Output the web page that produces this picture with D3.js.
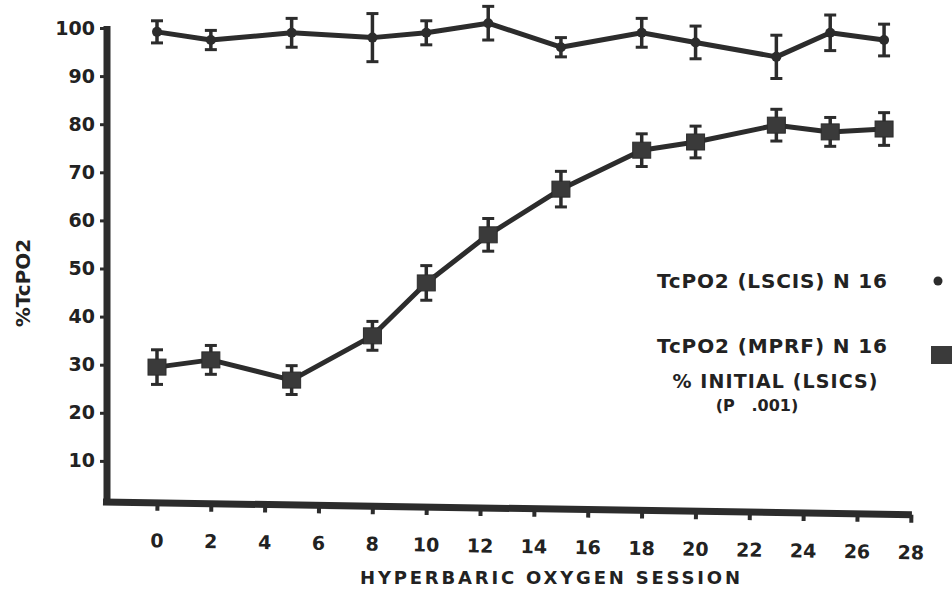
<!DOCTYPE html>
<html>
<head>
    <title>%TcPO2 by hyperbaric oxygen session</title>
    <script src="https://d3js.org/d3.v7.min.js"></script>
</head>
<style>
    body {
        margin: 0;
        background: #fff;
    }

    .chart text {
        font-family: "DejaVu Sans", "Liberation Sans", sans-serif;
        font-weight: bold;
        fill: #222;
    }
</style>
<body>
    <svg class='chart'></svg>
</body>
<script>
    // session numbers along the x axis
    const sessions = [0, 2, 5, 8, 10, 12.3, 15, 18, 20, 23, 25, 27]
    // TcPO2 (LSCIS) - mean and error
    const lscisMean = [99.2, 97.5, 99, 98, 99, 101, 96, 99, 97, 94, 99, 97.5]
    const lscisErr = [2.3, 2, 3, 5, 2.5, 3.5, 2, 3, 3.4, 4.5, 3.7, 3.3]
    // TcPO2 (MPRF) % initial - mean and error
    const mprfMean = [29.5, 31, 26.8, 36, 47, 57, 66.5, 74.6, 76.3, 79.8, 78.4, 79]
    const mprfErr = [3.6, 3, 3, 3, 3.6, 3.4, 3.7, 3.4, 3.3, 3.3, 3, 3.4]

    const xTicks = d3.range(0, 29, 2)
    const yTicks = d3.range(10, 101, 10)

    var width = 952
    var height = 591
    var ink = '#2c2c2c'

    var chart = d3.select('.chart')
        .attr('width', width)
        .attr('height', height)

    var xChart = d3.scaleLinear()
        .domain([0, 28])
        .range([157, 911])
    var yChart = d3.scaleLinear()
        .domain([0, 100])
        .range([509, 28])

    // y axis
    var yAxis = d3.axisLeft(yChart)
        .tickValues(yTicks)
        .tickSizeInner(7)
        .tickSizeOuter(0)
        .tickPadding(5)

    var yg = chart.append('g')
        .attr('class', 'yAxis')
        .attr('transform', 'translate(107,0)')
        .call(yAxis)
    yg.select('.domain').remove()
    yg.selectAll('.tick line').attr('stroke', ink).attr('stroke-width', 3)
    yg.selectAll('.tick text').style('font-size', '19px')
    yg.append('line')
        .attr('x1', 0).attr('x2', 0)
        .attr('y1', 26).attr('y2', 505)
        .attr('stroke', ink)
        .attr('stroke-width', 7)

    // x axis (the scan is slightly tilted)
    var xAxis = d3.axisBottom(xChart)
        .tickValues(xTicks)
        .tickSizeInner(8)
        .tickSizeOuter(0)
        .tickPadding(23)

    var xg = chart.append('g')
        .attr('class', 'xAxis')
        .attr('transform', 'translate(104,502) rotate(0.9) translate(-104,0)')
        .call(xAxis)
    xg.select('.domain').remove()
    xg.selectAll('.tick line').attr('stroke', ink).attr('stroke-width', 4)
    xg.selectAll('.tick text').style('font-size', '19px')
    xg.append('line')
        .attr('x1', 103).attr('x2', 912)
        .attr('y1', 0).attr('y2', 0)
        .attr('stroke', ink)
        .attr('stroke-width', 7)

    // axis titles
    chart.append('text')
        .attr('transform', 'translate(30,283) rotate(-90)')
        .attr('text-anchor', 'middle')
        .style('font-size', '20px')
        .text('%TcPO2')
    chart.append('text')
        .attr('x', 550)
        .attr('y', 584)
        .attr('text-anchor', 'middle')
        .attr('textLength', 380)
        .attr('lengthAdjust', 'spacing')
        .style('font-size', '18px')
        .text('HYPERBARIC OXYGEN SESSION')

    // series
    var lscis = sessions.map((s, i) => ({ x: s, y: lscisMean[i], e: lscisErr[i] }))
    var mprf = sessions.map((s, i) => ({ x: s, y: mprfMean[i], e: mprfErr[i] }))

    var line = d3.line()
        .x(d => xChart(d.x))
        .y(d => yChart(d.y))

    const drawSeries = (data, cls) => {
        var g = chart.append('g').attr('class', cls)
        g.append('path')
            .datum(data)
            .attr('d', line)
            .attr('fill', 'none')
            .attr('stroke', ink)
            .attr('stroke-width', 5)
            .attr('stroke-linejoin', 'round')
        var bars = g.selectAll('.err')
            .data(data)
            .enter()
            .append('g')
            .attr('class', 'err')
        bars.append('line')
            .attr('x1', d => xChart(d.x)).attr('x2', d => xChart(d.x))
            .attr('y1', d => yChart(d.y + d.e)).attr('y2', d => yChart(d.y - d.e))
            .attr('stroke', ink).attr('stroke-width', 3.5)
        bars.append('line')
            .attr('x1', d => xChart(d.x) - 6).attr('x2', d => xChart(d.x) + 6)
            .attr('y1', d => yChart(d.y + d.e)).attr('y2', d => yChart(d.y + d.e))
            .attr('stroke', ink).attr('stroke-width', 3)
        bars.append('line')
            .attr('x1', d => xChart(d.x) - 6).attr('x2', d => xChart(d.x) + 6)
            .attr('y1', d => yChart(d.y - d.e)).attr('y2', d => yChart(d.y - d.e))
            .attr('stroke', ink).attr('stroke-width', 3)
        return g
    }

    var g1 = drawSeries(lscis, 'lscis')
    g1.selectAll('.pt')
        .data(lscis)
        .enter()
        .append('circle')
        .attr('cx', d => xChart(d.x))
        .attr('cy', d => yChart(d.y))
        .attr('r', 5)
        .attr('fill', ink)

    var g2 = drawSeries(mprf, 'mprf')
    g2.selectAll('.pt')
        .data(mprf)
        .enter()
        .append('rect')
        .attr('x', d => xChart(d.x) - 9)
        .attr('y', d => yChart(d.y) - 8)
        .attr('width', 18)
        .attr('height', 16)
        .attr('fill', '#3a3a3a')
        .attr('stroke', ink)
        .attr('stroke-width', 1)

    // legend
    chart.append('text')
        .attr('x', 657).attr('y', 288)
        .attr('textLength', 230)
        .attr('lengthAdjust', 'spacing')
        .style('font-size', '20px')
        .text('TcPO2 (LSCIS) N 16')
    chart.append('circle')
        .attr('cx', 938).attr('cy', 281).attr('r', 4.5)
        .attr('fill', ink)

    chart.append('text')
        .attr('x', 657).attr('y', 353)
        .attr('textLength', 230)
        .attr('lengthAdjust', 'spacing')
        .style('font-size', '20px')
        .text('TcPO2 (MPRF) N 16')
    chart.append('rect')
        .attr('x', 931).attr('y', 346).attr('width', 21).attr('height', 18)
        .attr('fill', '#3a3a3a')

    chart.append('text')
        .attr('x', 775).attr('y', 388)
        .attr('text-anchor', 'middle')
        .attr('textLength', 205)
        .attr('lengthAdjust', 'spacing')
        .style('font-size', '19px')
        .text('% INITIAL (LSICS)')
    chart.append('text')
        .attr('x', 757).attr('y', 411)
        .attr('text-anchor', 'middle')
        .style('font-size', '16px')
        .attr('xml:space', 'preserve')
        .text('(P   .001)')
</script>
</html>
